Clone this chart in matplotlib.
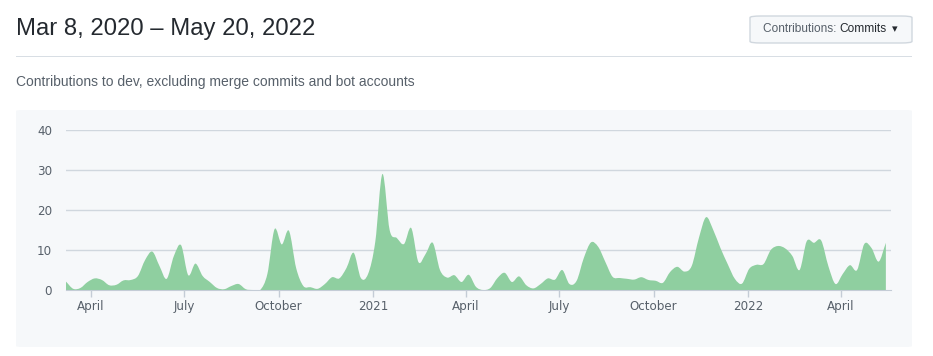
import numpy as np
import pandas as pd
import matplotlib
matplotlib.use('Agg')
import matplotlib.pyplot as plt
import matplotlib.dates as mdates
from matplotlib.path import Path
from matplotlib.patches import PathPatch, FancyBboxPatch, Rectangle

# ---------------------------------------------------------
# data: weekly commits, weeks starting Sunday Mar 8 2020
# ---------------------------------------------------------
week_start = '2020-03-08'
n_weeks = 115
commits = [
    2.1, 0.3, 0.5, 2.0, 2.9, 2.5, 1.2, 1.3, 2.4, 2.5,
    3.5, 7.5, 9.6, 6.0, 2.8, 8.5, 11.2, 3.7, 6.6, 3.5,
    2.0, 0.5, 0.2, 1.0, 1.5, 0.2, 0.0, 0.0, 4.0, 15.2,
    11.4, 14.8, 5.5, 1.0, 0.7, 0.3, 1.5, 3.2, 2.9, 5.5,
    9.3, 3.0, 4.0, 12.0, 29.0, 15.0, 13.0, 11.5, 15.5, 7.0,
    9.0, 11.8, 5.0, 3.1, 3.7, 2.0, 3.8, 0.8, 0.0, 0.5,
    3.0, 4.3, 2.0, 3.4, 1.2, 0.4, 1.5, 2.9, 2.6, 5.0,
    1.5, 2.3, 8.0, 11.9, 10.8, 7.0, 3.3, 3.0, 2.8, 2.6,
    3.2, 2.5, 2.3, 1.8, 4.5, 5.8, 4.6, 6.0, 13.0, 18.2,
    15.0, 10.5, 6.5, 2.8, 1.6, 5.3, 6.3, 6.5, 10.0, 11.0,
    10.4, 8.5, 5.0, 12.2, 11.8, 12.4, 6.0, 1.5, 4.0, 6.2,
    5.0, 11.5, 10.5, 7.1, 11.8,
]
range_start = '2020-03-08'
range_end = '2022-05-20'
y_ticks = [0, 10, 20, 30, 40]

title = 'Mar 8, 2020 \u2013 May 20, 2022'
subtitle = 'Contributions to dev, excluding merge commits and bot accounts'

weeks = pd.date_range(week_start, periods=n_weeks, freq='7D')
x = mdates.date2num(weeks)
y = np.array(commits, dtype=float)


# smooth cardinal (catmull-rom) curve -> bezier path, for rendering only
def smooth_path(x, y, base=0.0):
    n = len(x)
    t = np.zeros(n)
    t[1:-1] = (y[2:] - y[:-2]) / (x[2:] - x[:-2])
    t[0] = (y[1] - y[0]) / (x[1] - x[0])
    t[-1] = (y[-1] - y[-2]) / (x[-1] - x[-2])
    verts = [(x[0], base), (x[0], y[0])]
    codes = [Path.MOVETO, Path.LINETO]
    for i in range(n - 1):
        dx = (x[i + 1] - x[i]) / 3
        verts += [(x[i] + dx, y[i] + dx * t[i]),
                  (x[i + 1] - dx, y[i + 1] - dx * t[i + 1]),
                  (x[i + 1], y[i + 1])]
        codes += [Path.CURVE4] * 3
    verts += [(x[-1], base), (x[0], base)]
    codes += [Path.LINETO, Path.CLOSEPOLY]
    return Path(verts, codes)


W, H = 933, 356
fig = plt.figure(figsize=(W / 100, H / 100), dpi=100)
fig.patch.set_facecolor('white')


def fx(px):
    return px / W


def fy(py):
    return 1 - py / H


head_font = ['Liberation Sans', 'DejaVu Sans']
text_dark = '#24292f'
text_gray = '#57606a'

# header
fig.text(fx(16), fy(29), title, fontsize=17.2, color=text_dark,
         family=head_font, ha='left', va='center')
fig.add_artist(Rectangle((fx(16), fy(56.5)), fx(896), 1 / H,
                         transform=fig.transFigure, color='#d8dee4', lw=0))
fig.text(fx(16), fy(82), subtitle, fontsize=10.0, color=text_gray,
         family=head_font, ha='left', va='center')

# dropdown button
btn = FancyBboxPatch((fx(750), fy(43)), fx(162), 27 / H,
                     boxstyle='round,pad=0,rounding_size=0.012',
                     transform=fig.transFigure, facecolor='#f6f8fa',
                     edgecolor='#d0d7de', lw=1, mutation_aspect=H / W)
fig.add_artist(btn)
fig.text(fx(763), fy(29.5), 'Contributions: ', fontsize=8.6, color=text_gray,
         family=head_font, ha='left', va='center')
fig.text(fx(839), fy(29.5), 'Commits', fontsize=8.6, color=text_dark,
         family=head_font, ha='left', va='center')
fig.text(fx(895), fy(29.5), '\u25be', fontsize=8, color=text_dark,
         ha='center', va='center')

# chart panel (behind the axes)
panel = FancyBboxPatch((fx(16), fy(347)), fx(896), 237 / H,
                       boxstyle='round,pad=0,rounding_size=0.007',
                       transform=fig.transFigure, facecolor='#f6f8fa',
                       edgecolor='none', mutation_aspect=H / W, zorder=-5)
fig.add_artist(panel)

ax = fig.add_axes([fx(66), fy(290), fx(825), 160 / H])
ax.set_zorder(2)
ax.set_facecolor('none')
ax.add_patch(PathPatch(smooth_path(x, y), facecolor='#8fcfa0',
                       edgecolor='none', zorder=2))

ax.set_xlim(mdates.date2num(pd.Timestamp(range_start)),
            mdates.date2num(pd.Timestamp(range_end)))
ax.set_ylim(0, 40)
ax.set_yticks(y_ticks)
for v in y_ticks[1:]:
    ax.axhline(v, color='#d0d7de', lw=1, zorder=1)

ax.xaxis.set_major_locator(mdates.MonthLocator(bymonth=[1, 4, 7, 10]))


def month_fmt(val, pos):
    d = mdates.num2date(val)
    return str(d.year) if d.month == 1 else d.strftime('%B')


ax.xaxis.set_major_formatter(plt.FuncFormatter(month_fmt))

for side in ['top', 'right', 'left']:
    ax.spines[side].set_visible(False)
ax.spines['bottom'].set_color('#c4ccd6')
ax.tick_params(axis='y', length=0, pad=10, labelsize=8.6, labelcolor=text_gray)
ax.tick_params(axis='x', length=5, width=1, color='#c4ccd6', pad=2,
               labelsize=8.6, labelcolor=text_gray)

plt.savefig('out.png', dpi=100)
